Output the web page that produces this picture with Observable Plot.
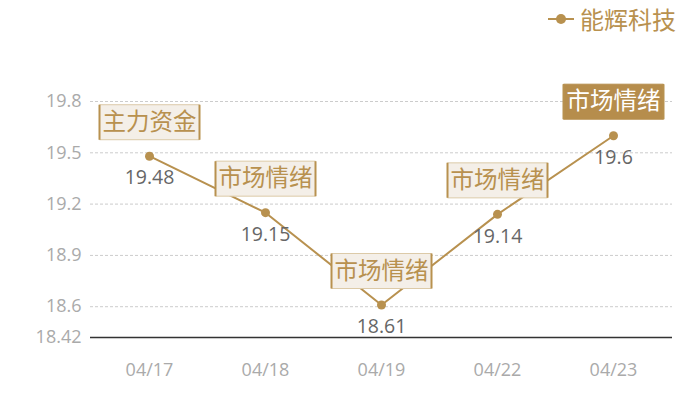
<!DOCTYPE html>
<html>
<head>
<meta charset="utf-8">
<script src="https://cdn.jsdelivr.net/npm/d3@7"></script>
<script src="https://cdn.jsdelivr.net/npm/@observablehq/plot@0.6"></script>
<style>
  body { margin: 0; background: #fff; font-family: "Noto Sans CJK SC", "Noto Sans", sans-serif; }
  #wrap { position: relative; width: 700px; height: 400px; }
  #legend { position: absolute; top: 1px; left: 548px; display: flex; align-items: center; color: #b8914f; font-size: 24px; }
  #legend svg { margin-right: 6px; }
</style>
</head>
<body>
<div id="wrap">
  <div id="chart"></div>
  <div id="legend"><svg width="26" height="12"><line x1="0" y1="6" x2="26" y2="6" stroke="#b8914f" stroke-width="2"/><circle cx="13" cy="6" r="5" fill="#b8914f"/></svg><span>能辉科技</span></div>
</div>
<script>
const dates = ["04/17", "04/18", "04/19", "04/22", "04/23"];
const prices = [19.48, 19.15, 18.61, 19.14, 19.6];
const tags = ["主力资金", "市场情绪", "市场情绪", "市场情绪", "市场情绪"];
const highlighted = [false, false, false, false, true];
const yTicks = [18.42, 18.6, 18.9, 19.2, 19.5, 19.8];
const gridTicks = [18.6, 18.9, 19.2, 19.5, 19.8];

const data = dates.map((d, i) => ({date: d, price: prices[i], tag: tags[i], hi: highlighted[i]}));
const gold = "#b8914f";
const numFont = "'Open Sans', 'Noto Sans', sans-serif";

const boxSymbol = { draw(ctx) { ctx.rect(-50, -17.5, 100, 35); } };
const sideSymbol = { draw(ctx) { ctx.moveTo(-50, -17.5); ctx.lineTo(-50, 17.5); ctx.moveTo(50, -17.5); ctx.lineTo(50, 17.5); } };

const chart = Plot.plot({
  width: 700,
  height: 400,
  marginLeft: 90,
  marginRight: 28,
  marginTop: 101,
  marginBottom: 63,
  style: { fontFamily: "'Noto Sans CJK SC', 'Noto Sans', sans-serif", background: "transparent" },
  x: { type: "point", domain: dates, padding: 0.5, label: null },
  y: { domain: [18.42, 19.8], label: null },
  marks: [
    Plot.ruleY(gridTicks, { stroke: "#ccc", strokeDasharray: "3,2", strokeWidth: 1 }),
    Plot.ruleY([18.42], { stroke: "#333", strokeWidth: 1.5 }),
    Plot.axisY({ ticks: yTicks, tickSize: 0, tickPadding: 9, fontSize: 18, fontFamily: numFont, color: "#aaa", tickFormat: d => String(d) }),
    Plot.axisX({ tickSize: 0, tickPadding: 26, fontSize: 18, fontFamily: numFont, color: "#aaa" }),
    Plot.line(data, { x: "date", y: "price", stroke: gold, strokeWidth: 2 }),
    Plot.dot(data, { x: "date", y: "price", r: 4.5, fill: gold }),
    Plot.text(data, { x: "date", y: "price", text: d => String(d.price), dy: 22, fontSize: 19.5, fontFamily: numFont, fill: "#666" }),
    Plot.dot(data, { x: "date", y: "price", symbol: boxSymbol, r: 10, dy: -34, fill: d => d.hi ? "#b68d4c" : "#f4efe8", stroke: d => d.hi ? "#b68d4c" : "#dccaa8", strokeWidth: 1 }),
    Plot.dot(data, { x: "date", y: "price", symbol: sideSymbol, r: 10, dy: -34, fill: "none", stroke: gold, strokeWidth: 2 }),
    Plot.text(data, { x: "date", y: "price", text: "tag", dy: -34, fontSize: 23.5, fill: d => d.hi ? "#fff" : gold })
  ]
});
document.getElementById("chart").appendChild(chart);
</script>
</body>
</html>
